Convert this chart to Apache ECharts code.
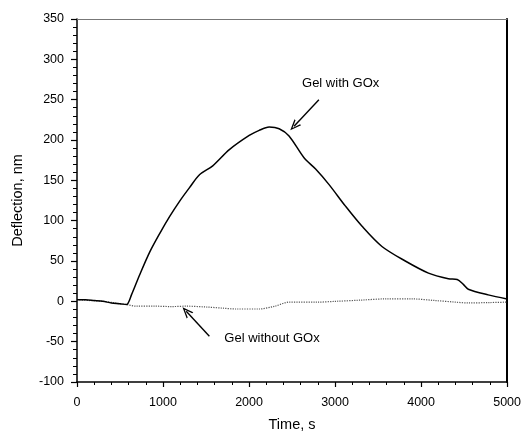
<!DOCTYPE html>
<html>
<head>
<meta charset="utf-8">
<script src="https://cdn.jsdelivr.net/npm/echarts@6/dist/echarts.min.js"></script>
<style>html,body{margin:0;padding:0;background:#fff;}#c{width:524px;height:437px;}</style>
</head>
<body>
<div id="c"></div>
<script>
// Data
var timeGOx = [0, 100, 200, 300, 400, 500, 575, 633, 729, 845, 961, 1076, 1192, 1308, 1424, 1578, 1771, 2002, 2118, 2234, 2350, 2465, 2639, 2774, 2928, 3121, 3314, 3545, 3816, 4086, 4317, 4420, 4491, 4549, 4780, 5000];
var valGOx  = [2, 2, 1, 0, -2, -3, -4, 8, 33, 61, 84, 105, 124, 141, 157, 168, 188, 205.6, 212, 216, 214, 205, 178, 164, 145, 118, 93, 68, 50, 35, 28, 27, 21, 15, 8, 3];
var timeNo = [0, 150, 300, 450, 575, 690, 900, 1100, 1270, 1500, 1700, 1848, 2118, 2300, 2465, 2800, 3005, 3300, 3584, 3900, 4163, 4400, 4549, 4800, 5000];
var valNo  = [2, 1, 0, -2, -4, -6, -6, -6.5, -6, -7, -8.5, -9.5, -9.5, -6, -1, -1, 0, 1.5, 3, 3, 1, -1, -2, -1.5, -1];
var xTicks = {min: 0, max: 5000, interval: 1000};
var yTicks = {min: -100, max: 350, interval: 50};
var labelGOx = 'Gel with GOx';
var labelNo = 'Gel without GOx';
var xName = 'Time, s';
var yName = 'Deflection, nm';
// annotation anchors in data units: [text pos, arrow tail, arrow tip]
var annGOx = [[2616, 270], [2812, 250], [2523, 217]];
var annNo  = [[1713, -46.5], [1539, -43.4], [1270, -12.4]];

function pairs(xs, ys){ return xs.map(function(x,i){ return [x, ys[i]]; }); }

var FONT = "'Liberation Sans', Arial, sans-serif";
var chevron = 'path://M5,0 L10,10 L8.4,10 L5,3 L1.6,10 L0,10 Z';

function annotation(a, text){
  return {
    markLine: {
      silent: true, animation: false,
      symbol: ['none', chevron], symbolSize: [9, 11],
      lineStyle: {color: '#000', width: 1.4, type: 'solid'},
      label: {show: false},
      data: [[{coord: a[1]}, {coord: a[2]}]]
    },
    markPoint: {
      silent: true, animation: false,
      symbol: 'circle', symbolSize: 0,
      label: {show: true, position: [0, 0], align: 'left', verticalAlign: 'middle',
              color: '#000', fontFamily: FONT, fontSize: 13, formatter: text},
      data: [{coord: a[0]}]
    }
  };
}

var chart = echarts.init(document.getElementById('c'), null, {renderer: 'canvas'});
var s1 = Object.assign({
  type: 'line', data: pairs(timeGOx, valGOx), showSymbol: false, symbol: 'none', smooth: 0.3,
  lineStyle: {color: '#000', width: 1.5}, animation: false, z: 3
}, annotation(annGOx, labelGOx));
var s2 = Object.assign({
  type: 'line', data: pairs(timeNo, valNo), showSymbol: false, symbol: 'none', smooth: 0.3,
  lineStyle: {color: '#555', width: 1.2, type: 'dotted'}, animation: false, z: 2
}, annotation(annNo, labelNo));

chart.setOption({
  backgroundColor: '#fff',
  animation: false,
  grid: {left: 77, right: 15, top: 19, bottom: 55, containLabel: false},
  xAxis: [{
    type: 'value', position: 'bottom', min: xTicks.min, max: xTicks.max, interval: xTicks.interval,
    name: xName, nameLocation: 'middle', nameGap: 35,
    nameTextStyle: {fontFamily: FONT, fontSize: 14.5, color: '#000'},
    axisLine: {show: true, onZero: false, lineStyle: {color: '#000', width: 1.5}},
    axisTick: {show: true, inside: false, length: 5, lineStyle: {color: '#000', width: 1.2}},
    minorTick: {show: true, splitNumber: 5, length: 3, lineStyle: {color: '#000', width: 1}},
    axisLabel: {fontFamily: FONT, fontSize: 12.5, color: '#000', margin: 14,
                formatter: function(v){ return String(v); }},
    splitLine: {show: false}
  }, {
    type: 'value', position: 'top', min: xTicks.min, max: xTicks.max,
    axisLine: {show: true, onZero: false, lineStyle: {color: '#777', width: 1}},
    axisTick: {show: false}, axisLabel: {show: false}, splitLine: {show: false}
  }],
  yAxis: [{
    type: 'value', position: 'left', min: yTicks.min, max: yTicks.max, interval: yTicks.interval,
    name: yName, nameLocation: 'middle', nameGap: 52, nameRotate: 90,
    nameTextStyle: {fontFamily: FONT, fontSize: 14.5, color: '#000'},
    axisLine: {show: true, onZero: false, lineStyle: {color: '#000', width: 1.5}},
    axisTick: {show: true, inside: false, length: 6, lineStyle: {color: '#000', width: 1.2}},
    minorTick: {show: true, splitNumber: 5, length: 4, lineStyle: {color: '#000', width: 1}},
    axisLabel: {fontFamily: FONT, fontSize: 12.5, color: '#000', margin: 13,
                formatter: function(v){ return String(v); }},
    splitLine: {show: false}
  }, {
    type: 'value', position: 'right', min: yTicks.min, max: yTicks.max,
    axisLine: {show: true, onZero: false, lineStyle: {color: '#000', width: 2}},
    axisTick: {show: false}, axisLabel: {show: false}, splitLine: {show: false}
  }],
  series: [s2, s1]
});
</script>
</body>
</html>
